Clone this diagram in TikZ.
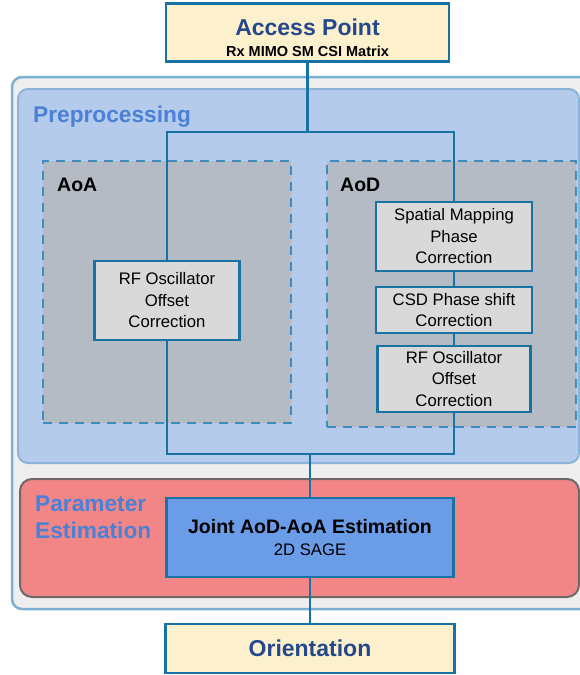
\documentclass[tikz,border=0pt]{standalone}
\usepackage{fontspec}
\setmainfont{Liberation Sans}
\usetikzlibrary{positioning}

\definecolor{lineblue}{RGB}{24,114,164}
\definecolor{apfill}{RGB}{253,240,205}
\definecolor{titleblue}{RGB}{36,72,140}
\definecolor{outerfill}{RGB}{238,238,238}
\definecolor{outerline}{RGB}{122,176,208}
\definecolor{prefill}{RGB}{181,203,236}
\definecolor{preline}{RGB}{140,180,214}
\definecolor{grouptext}{RGB}{74,128,214}
\definecolor{dashfill}{RGB}{181,187,196}
\definecolor{dashline}{RGB}{60,140,190}
\definecolor{stepfill}{RGB}{217,217,217}
\definecolor{paramfill}{RGB}{242,134,134}
\definecolor{paramline}{RGB}{112,104,104}
\definecolor{jointfill}{RGB}{106,156,232}

\tikzset{
  endbox/.style={draw=lineblue,line width=2.6pt,fill=apfill,inner sep=0pt,
    align=center,text=titleblue,font=\fontsize{23}{21}\selectfont\bfseries},
  stepbox/.style={draw=lineblue,line width=2.6pt,fill=stepfill,inner sep=0pt,
    align=center,font=\fontsize{16.7}{21.5}\selectfont},
  groupbox/.style={draw=dashline,line width=2.5pt,fill=dashfill,
    dash pattern=on 9pt off 7pt,inner sep=0pt},
  grouplabel/.style={anchor=base west,inner sep=0pt,font=\fontsize{19.5}{22}\selectfont\bfseries},
  stagelabel/.style={anchor=base west,inner sep=0pt,text=grouptext,
    font=\fontsize{22.7}{27}\selectfont\bfseries},
  conn/.style={draw=lineblue,line width=2.5pt}
}

\begin{document}
\begin{tikzpicture}[x=1pt,y=-1pt]
\useasboundingbox (0,0) rectangle (580,675);

% stages
\node (outer) [draw=outerline,line width=2.5pt,fill=outerfill,rounded corners=10pt,
  minimum width=600,minimum height=532] at (312,343) {};
\node (pre) [draw=preline,line width=2pt,fill=prefill,rounded corners=10pt,
  minimum width=561,minimum height=374] at (298.5,276) {};
\node (param) [draw=paramline,line width=2pt,fill=paramfill,rounded corners=12pt,
  minimum width=559,minimum height=118] at (299.5,538) {};
\node (prelabel) [stagelabel] at (33,122) {Preprocessing};
\node (paramlabel) [stagelabel] at (35,511) {Parameter};
\node (paramlabel2) [stagelabel] at (35,538) {Estimation};

% groups
\node (aoa) [groupbox,minimum width=248,minimum height=262] at (167,292) {};
\node (aod) [groupbox,minimum width=249,minimum height=266] at (451.5,294) {};
\node (aoalabel) [grouplabel] at (57,191) {AoA};
\node (aodlabel) [grouplabel] at (340,191) {AoD};

% nodes
\node (ap) [endbox,minimum width=283,minimum height=58] at (307.5,32.5)
  {\rule{0pt}{27pt}Access Point\\{\fontsize{14.5}{17}\selectfont\color{black}Rx MIMO SM CSI Matrix}};
\node (rfa) [stepbox,minimum width=145,minimum height=79] at (167,300.5)
  {RF Oscillator\\Offset\\Correction};
\node (spm) [stepbox,minimum width=156,minimum height=69] at (454,236.5)
  {Spatial Mapping\\Phase\\Correction};
\node (csd) [stepbox,minimum width=156,minimum height=46] at (454,310)
  {CSD Phase shift\\Correction};
\node (rfd) [stepbox,minimum width=153,minimum height=66] at (454,379)
  {RF Oscillator\\Offset\\Correction};
\node (joint) [stepbox,fill=jointfill,minimum width=287,minimum height=79] at (310,537.5)
  {{\fontsize{19.5}{22}\selectfont\bfseries Joint AoD-AoA Estimation}\\2D SAGE};
\node (orient) [endbox,minimum width=289,minimum height=49] at (310,648.5) {Orientation};

% connectors
\coordinate (split) at (454,132);
\coordinate (join) at (454,454);
\draw[conn] (ap.south) -- (ap.south |- split);
\draw[conn] (rfa.north) |- (split) -- (spm.north);
\draw[conn] (spm) -- (csd);
\draw[conn] (csd) -- (rfd);
\draw[conn] (rfa.south) |- (join) -- (rfd.south);
\draw[conn] (joint.north |- join) -- (joint.north);
\draw[conn] (joint) -- (orient);
\end{tikzpicture}
\end{document}
